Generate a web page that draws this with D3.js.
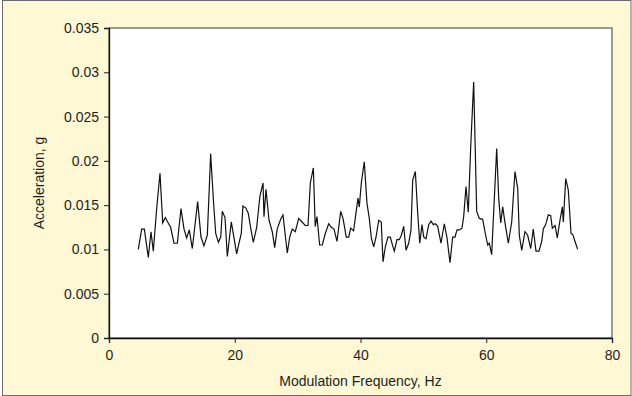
<!DOCTYPE html>
<html>
<head>
<meta charset="utf-8">
<script src="https://cdn.jsdelivr.net/npm/d3@7"></script>
<style>
  body { margin: 0; padding: 0; background: #fff; }
  svg { display: block; }
</style>
</head>
<body>
<div id="chart"></div>
<script>
// data
var freqHz = [
  4.66, 5.2, 5.62, 6.25, 6.68, 7.05, 7.58, 8.11, 8.54, 8.96, 9.33, 9.8, 10.34, 10.87,
  11.45, 11.93, 12.35, 12.77, 13.25, 14.1, 14.63, 15.1, 15.64, 16.17, 16.6, 16.97, 17.4,
  17.77, 18.02, 18.45, 18.82, 19.45, 19.88, 20.3, 20.68, 21.04, 21.3, 21.74, 22.15, 22.54,
  22.95, 23.49, 24.0, 24.5, 24.65, 24.97, 25.45, 25.97, 26.35, 26.75, 27.3, 27.67, 28.36,
  28.74, 29.15, 29.63, 30.17, 30.7, 31.22, 31.65, 32.02, 32.5, 32.8, 33.08, 33.5, 33.92,
  34.4, 34.94, 35.36, 35.79, 36.26, 36.85, 37.22, 37.74, 38.12, 38.44, 38.9, 39.6, 39.81,
  40.13, 40.6, 41.03, 41.4, 41.72, 42.1, 42.47, 42.9, 43.3, 43.58, 43.95, 44.37, 44.74,
  45.12, 45.38, 45.8, 46.17, 46.49, 46.87, 47.24, 47.66, 48.03, 48.3, 48.72, 49.1, 49.42,
  49.78, 50.05, 50.42, 50.85, 51.21, 51.58, 51.9, 52.28, 52.8, 53.33, 53.76, 54.23, 54.66,
  55.03, 55.35, 55.72, 56.14, 56.41, 56.78, 57.14, 57.53, 58.0, 58.48, 58.9, 59.43, 59.85,
  60.23, 60.49, 60.86, 61.66, 61.98, 62.3, 62.62, 62.98, 63.51, 64.05, 64.57, 65.0, 65.26,
  65.64, 66.16, 66.59, 67.07, 67.48, 67.91, 68.39, 68.82, 69.07, 69.45, 69.87, 70.25, 70.51,
  70.94, 71.3, 71.73, 72.1, 72.26, 72.64, 73.05, 73.48, 73.75, 74.12, 74.54
];
var accelG = [
  0.0100, 0.0123, 0.0123, 0.0091, 0.0120, 0.0098, 0.0146, 0.0186, 0.0130, 0.0136, 0.0131, 0.0125, 0.0107, 0.0107,
  0.0146, 0.0123, 0.0113, 0.0122, 0.0101, 0.0154, 0.0114, 0.0104, 0.0116, 0.0208, 0.0156, 0.0118, 0.0108,
  0.0114, 0.0143, 0.0136, 0.0092, 0.0131, 0.0113, 0.0095, 0.0107, 0.0118, 0.0149, 0.0147, 0.0141, 0.0124,
  0.0108, 0.0125, 0.0160, 0.0175, 0.0137, 0.0168, 0.0133, 0.0120, 0.0102, 0.0123, 0.0134, 0.0139, 0.0096,
  0.0114, 0.0123, 0.0120, 0.0135, 0.0131, 0.0127, 0.0127, 0.0175, 0.0192, 0.0126, 0.0137, 0.0105, 0.0105,
  0.0118, 0.0129, 0.0125, 0.0123, 0.0109, 0.0143, 0.0135, 0.0114, 0.0114, 0.0124, 0.0121, 0.0158, 0.0148,
  0.0175, 0.0199, 0.0152, 0.0135, 0.0113, 0.0103, 0.0114, 0.0133, 0.0131, 0.0086, 0.0103, 0.0114, 0.0114,
  0.0104, 0.0098, 0.0111, 0.0111, 0.0116, 0.0126, 0.0099, 0.0107, 0.0122, 0.0178, 0.0188, 0.0141, 0.0107,
  0.0128, 0.0114, 0.0112, 0.0128, 0.0132, 0.0128, 0.0129, 0.0126, 0.0107, 0.0129, 0.0113, 0.0085, 0.0114,
  0.0114, 0.0122, 0.0122, 0.0124, 0.0137, 0.0171, 0.0142, 0.0216, 0.0289, 0.0143, 0.0135, 0.0134, 0.0118,
  0.0105, 0.0107, 0.0094, 0.0214, 0.0158, 0.0130, 0.0148, 0.0130, 0.0107, 0.0131, 0.0188, 0.0169, 0.0116,
  0.0099, 0.0120, 0.0116, 0.0101, 0.0123, 0.0098, 0.0098, 0.0109, 0.0123, 0.0128, 0.0139, 0.0138, 0.0124,
  0.0127, 0.0113, 0.0133, 0.0148, 0.0131, 0.0180, 0.0167, 0.0118, 0.0117, 0.0109, 0.0100
];
var xTicks = [0, 20, 40, 60, 80];
var yTicks = [0, 0.005, 0.01, 0.015, 0.02, 0.025, 0.03, 0.035];

var W = 632, H = 396;
var margin = {top: 28, right: 20, bottom: 58, left: 109};
var width = W - margin.left - margin.right;
var height = H - margin.top - margin.bottom;
var FONT = "Liberation Sans, Arial, sans-serif";
var FSIZE = "14px";

var root = d3.select("#chart")
  .append("svg")
    .attr("width", W)
    .attr("height", H);

// page background + thin outer frame
root.append("rect")
    .attr("x", 2.5).attr("y", 0.5)
    .attr("width", W - 3.5).attr("height", H - 1)
    .style("fill", "#fff8d4")
    .style("stroke", "#6b6b6b")
    .style("stroke-width", 1);

var svg = root.append("g")
    .attr("transform", "translate(" + margin.left + "," + margin.top + ")");

var x = d3.scaleLinear().domain([0, 80]).range([0, width]);
var y = d3.scaleLinear().domain([0, 0.035]).range([height, 0]);

// plot area
svg.append("rect")
    .attr("width", width)
    .attr("height", height)
    .style("fill", "#ffffff")
    .style("stroke", "#5a5a5a")
    .style("stroke-width", 1.2);

var fmtY = function(d) { return d === 0 ? "0" : d3.format(".3~f")(d); };

var yAxis = svg.append("g")
    .call(d3.axisLeft(y).tickValues(yTicks).tickFormat(fmtY).tickSize(5).tickPadding(5));
var xAxis = svg.append("g")
    .attr("transform", "translate(0," + height + ")")
    .call(d3.axisBottom(x).tickValues(xTicks).tickSize(5).tickPadding(7));

[yAxis, xAxis].forEach(function(a) {
  a.select(".domain").style("stroke", "#111").style("stroke-width", 1.3);
  a.selectAll(".tick line").style("stroke", "#222");
  a.selectAll("text")
    .style("font-family", FONT)
    .style("font-size", FSIZE)
    .style("fill", "#1e1e1e");
});

// the trace
var line = d3.line()
    .x(function(d, i) { return x(freqHz[i]); })
    .y(function(d) { return y(d); });

svg.append("path")
    .datum(accelG)
    .attr("d", line)
    .style("fill", "none")
    .style("stroke", "#111")
    .style("stroke-width", 1.2)
    .style("stroke-linejoin", "miter");

// axis titles
svg.append("text")
    .attr("text-anchor", "middle")
    .attr("font-family", FONT)
    .attr("font-size", FSIZE)
    .attr("fill", "#1e1e1e")
    .attr("x", width / 2)
    .attr("y", height + 48)
    .text("Modulation Frequency, Hz");

svg.append("text")
    .attr("text-anchor", "middle")
    .attr("font-family", FONT)
    .attr("font-size", FSIZE)
    .attr("fill", "#1e1e1e")
    .attr("transform", "translate(" + (-65) + "," + (height / 2) + ") rotate(-90)")
    .text("Acceleration, g");
</script>
</body>
</html>
